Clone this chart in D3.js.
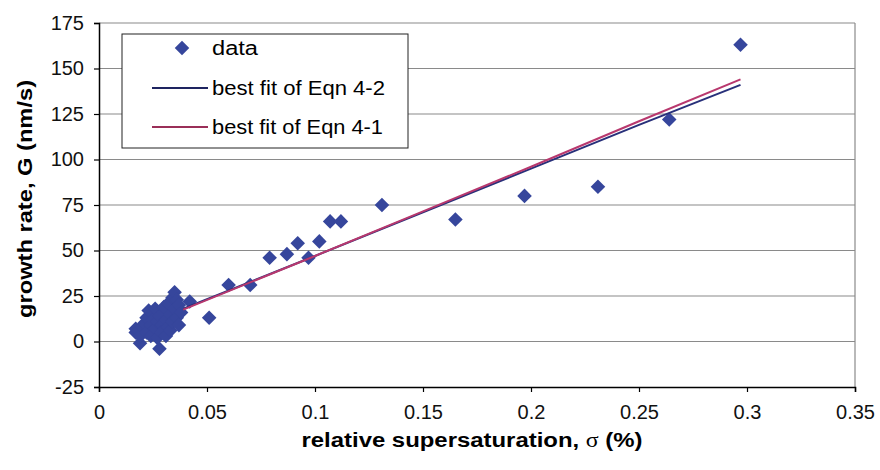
<!DOCTYPE html>
<html>
<head>
<meta charset="utf-8">
<script src="https://cdn.jsdelivr.net/npm/d3@7"></script>
<style>
  body { margin: 0; background: #fff; }
  svg { display: block; font-family: "Liberation Sans", Arial, sans-serif; }
</style>
</head>
<body>
<div id="chart"></div>
<script>
// measured data points: relative supersaturation (%) and growth rate (nm/s)
const sigma = [
  0.017, 0.017, 0.018, 0.019, 0.019, 0.020, 0.021, 0.022, 0.022, 0.023,
  0.024, 0.024, 0.025, 0.025, 0.026, 0.026, 0.027, 0.027, 0.028, 0.028,
  0.029, 0.029, 0.030, 0.030, 0.031, 0.031, 0.032, 0.032, 0.033, 0.033,
  0.034, 0.034, 0.035, 0.035, 0.036, 0.036, 0.037, 0.037, 0.038, 0.042,
  0.051, 0.060, 0.070, 0.079, 0.087, 0.092, 0.097, 0.102, 0.107, 0.112,
  0.131, 0.165, 0.197, 0.231, 0.264, 0.297
];
const growth = [
  5, 7, 6, -1, 3, 8, 10, 5, 13, 17,
  9, 3, 15, 12, 7, 18, 2, 11, -4, 14,
  9, 5, 16, 19, 12, 3, 8, 21, 15, 6,
  24, 11, 27, 18, 13, 23, 9, 20, 16, 22,
  13, 31, 31, 46, 48, 54, 46, 55, 66, 66,
  75, 67, 80, 85, 122, 163
];

// fitted curves
const fitSigma = [0.039, 0.1, 0.15, 0.2, 0.25, 0.297];
const fitEqn42 = [18, 47, 71, 95, 119, 141];
const fitEqn41 = [17.5, 47, 71.5, 96, 121, 144];

const xTicks = [0, 0.05, 0.1, 0.15, 0.2, 0.25, 0.3, 0.35];
const yTicks = [-25, 0, 25, 50, 75, 100, 125, 150, 175];

const width = 880, height = 470;
const svg = d3.select("#chart").append("svg")
  .attr("width", width).attr("height", height);

const x = d3.scaleLinear().domain([0, 0.35]).range([99, 855]);
const y = d3.scaleLinear().domain([-25, 175]).range([387, 23]);

// gridlines
svg.append("g").selectAll("line")
  .data(yTicks.filter(v => v > -25))
  .join("line")
  .attr("x1", x(0)).attr("x2", x(0.35))
  .attr("y1", d => y(d)).attr("y2", d => y(d))
  .attr("stroke", "#8a8a8a").attr("stroke-width", 1.2);

// right border of plot area
svg.append("line")
  .attr("x1", x(0.35)).attr("x2", x(0.35))
  .attr("y1", y(175)).attr("y2", y(-25))
  .attr("stroke", "#8a8a8a").attr("stroke-width", 1.2);

// axes
const yAxis = svg.append("g")
  .attr("transform", `translate(${x(0)},0)`)
  .call(d3.axisLeft(y).tickValues(yTicks).tickSize(5).tickPadding(10)
    .tickFormat(d => String(d)));
const xAxis = svg.append("g")
  .attr("transform", `translate(0,${y(-25)})`)
  .call(d3.axisBottom(x).tickValues(xTicks).tickSize(5).tickPadding(13)
    .tickFormat(d => String(+d.toFixed(2))));
[yAxis, xAxis].forEach(a => {
  a.select(".domain").attr("stroke", "#000").attr("stroke-width", 1.5);
  a.selectAll(".tick line").attr("stroke", "#000").attr("stroke-width", 1.2);
  a.selectAll(".tick text")
    .attr("fill", "#111")
    .style("font-size", "20px")
    .style("font-family", "'Liberation Sans', Arial, sans-serif");
});

// data points (diamonds)
const diamond = d3.symbol().type(d3.symbolDiamond2).size(135);
const points = sigma.map((s, i) => ({ s, g: growth[i] }));
svg.append("g").selectAll("path")
  .data(points)
  .join("path")
  .attr("d", diamond)
  .attr("transform", d => `translate(${x(d.s)},${y(d.g)})`)
  .attr("fill", "#36469c");

// fit lines
const line = d3.line().x(d => x(d[0])).y(d => y(d[1]));
svg.append("path")
  .datum(fitSigma.map((s, i) => [s, fitEqn42[i]]))
  .attr("d", line)
  .attr("fill", "none").attr("stroke", "#28307a").attr("stroke-width", 2);
svg.append("path")
  .datum(fitSigma.map((s, i) => [s, fitEqn41[i]]))
  .attr("d", line)
  .attr("fill", "none").attr("stroke", "#b8386e").attr("stroke-width", 2);

// legend
const legend = svg.append("g");
legend.append("rect")
  .attr("x", 122).attr("y", 34).attr("width", 286).attr("height", 114)
  .attr("fill", "#fff").attr("stroke", "#222").attr("stroke-width", 1);
legend.append("path")
  .attr("d", diamond)
  .attr("transform", "translate(182,48)")
  .attr("fill", "#36469c");
legend.append("line")
  .attr("x1", 152).attr("x2", 208).attr("y1", 88).attr("y2", 88)
  .attr("stroke", "#1e2460").attr("stroke-width", 2);
legend.append("line")
  .attr("x1", 152).attr("x2", 208).attr("y1", 127).attr("y2", 127)
  .attr("stroke", "#9a2f58").attr("stroke-width", 2);
const legendItems = [["data", 48, 46], ["best fit of Eqn 4-2", 88, 173], ["best fit of Eqn 4-1", 127, 171]];
legend.selectAll("text.lg")
  .data(legendItems)
  .join("text")
  .attr("class", "lg")
  .attr("x", 212).attr("y", d => d[1] + 7)
  .attr("textLength", d => d[2])
  .attr("lengthAdjust", "spacingAndGlyphs")
  .style("font-size", "20px")
  .text(d => d[0]);

// axis titles
const xTitle = svg.append("text")
  .attr("x", 472).attr("y", 447)
  .attr("text-anchor", "middle")
  .attr("textLength", 341).attr("lengthAdjust", "spacingAndGlyphs")
  .style("font-size", "20px").style("font-weight", "bold");
xTitle.append("tspan").text("relative supersaturation, ");
xTitle.append("tspan")
  .style("font-family", "'Liberation Serif', 'Times New Roman', serif")
  .style("font-weight", "normal")
  .text("σ");
xTitle.append("tspan").text(" (%)");
svg.append("text")
  .attr("transform", "translate(32,199) rotate(-90)")
  .attr("text-anchor", "middle")
  .attr("textLength", 238).attr("lengthAdjust", "spacingAndGlyphs")
  .style("font-size", "20px").style("font-weight", "bold")
  .text("growth rate, G (nm/s)");
</script>
</body>
</html>
